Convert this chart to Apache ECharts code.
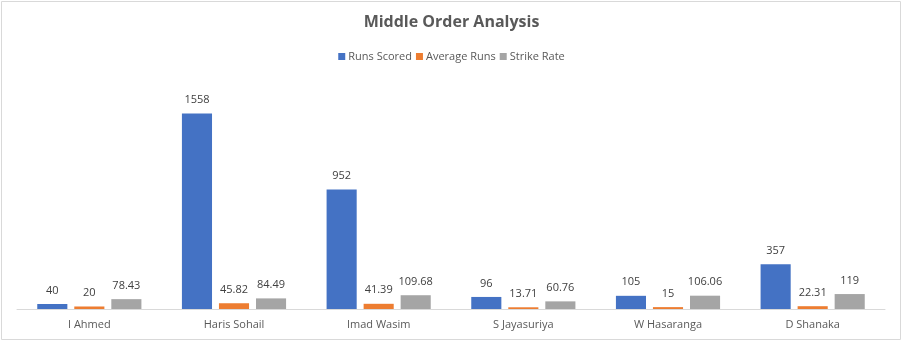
<!DOCTYPE html>
<html><head><meta charset="utf-8">
<script src="https://cdn.jsdelivr.net/npm/echarts@6/dist/echarts.min.js"></script>
<style>html,body{margin:0;padding:0;background:#fff}#c{width:903px;height:342px}</style>
</head><body><div id="c"></div>
<script>
const categories = ['I Ahmed','Haris Sohail','Imad Wasim','S Jayasuriya','W Hasaranga','D Shanaka'];
const runsScored = [40,1558,952,96,105,357];
const averageRuns = [20,45.82,41.39,13.71,15,22.31];
const strikeRate = [78.43,84.49,109.68,60.76,106.06,119];
const seriesNames = ['Runs Scored','Average Runs','Strike Rate'];
const colors = ['#4472C4','#ED7D31','#A5A5A5'];
const font = '"Open Sans", sans-serif';
const chart = echarts.init(document.getElementById('c'));
const lbl = {show:true, position:'top', distance:8, color:'#404040', fontSize:11, fontFamily:font};
chart.setOption({
  animation:false,
  graphic:[{type:'rect', shape:{x:1.5,y:1.5,width:899,height:338}, style:{fill:'none', stroke:'#d9d9d9', lineWidth:1}}],
  title:{text:'Middle Order Analysis', left:'center', top:9, textStyle:{fontSize:16, fontWeight:'bold', color:'#595959', fontFamily:font}},
  legend:{top:46, left:'center', itemWidth:7, itemHeight:7, itemGap:4, icon:'rect', textStyle:{fontSize:11, color:'#595959', fontFamily:font, padding:[0,0,0,-2]}},
  grid:{left:17, right:18, top:83, bottom:33},
  xAxis:{type:'category', data:categories, axisTick:{show:false}, axisLine:{lineStyle:{color:'#d9d9d9'}}, axisLabel:{color:'#595959', fontSize:11, fontFamily:font, margin:10}},
  yAxis:{type:'value', min:0, max:1800, interval:200, show:false, splitLine:{show:false}},
  series:[
    {name:seriesNames[0], type:'bar', data:runsScored, itemStyle:{color:colors[0]}, label:lbl, barGap:'23%', barCategoryGap:'28%'},
    {name:seriesNames[1], type:'bar', data:averageRuns, itemStyle:{color:colors[1]}, label:lbl},
    {name:seriesNames[2], type:'bar', data:strikeRate, itemStyle:{color:colors[2]}, label:lbl}
  ]
});
</script></body></html>
